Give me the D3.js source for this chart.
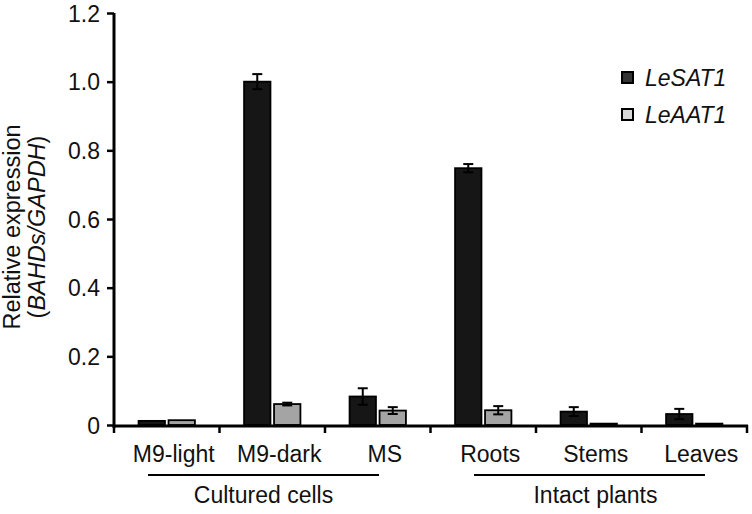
<!DOCTYPE html>
<html><head><meta charset="utf-8">
<script src="https://cdn.jsdelivr.net/npm/d3@7"></script>
<style>body{margin:0;background:#fff}svg{display:block;font-family:"Liberation Sans",Arial,sans-serif}</style>
</head><body>
<svg id="c" width="752" height="514"></svg>
<script>
const categories = ["M9-light","M9-dark","MS","Roots","Stems","Leaves"];
const seriesNames = ["LeSAT1","LeAAT1"];
const sat1 = [0.012, 1.0, 0.083, 0.748, 0.039, 0.032];
const sat1Err = [0.002, 0.022, 0.024, 0.012, 0.013, 0.015];
const aat1 = [0.014, 0.061, 0.042, 0.043, 0.004, 0.004];
const aat1Err = [0.002, 0.004, 0.010, 0.012, 0.001, 0.001];
const yTicks = [0, 0.2, 0.4, 0.6, 0.8, 1.0, 1.2];
const groups = [{name:"Cultured cells", from:0, to:2},{name:"Intact plants", from:3, to:5}];

const svg = d3.select("#c");
const x0 = 114, x1 = 747, yTop = 13, yBot = 425;
const x = d3.scaleBand().domain(categories).range([x0, x1]).paddingInner(0).paddingOuter(0);
const xs = d3.scaleBand().domain(seriesNames).range([0, x.bandwidth()]).paddingInner(0.12).paddingOuter(0.82);
const y = d3.scaleLinear().domain([0, 1.2]).range([yBot, yTop]);
const fills = {LeSAT1:"#161616", LeAAT1:"#a4a4a4"};
const vals = {LeSAT1:sat1, LeAAT1:aat1};
const errs = {LeSAT1:sat1Err, LeAAT1:aat1Err};

// bars
seriesNames.forEach(s => {
  const data = categories.map((c,i)=>({c, v:vals[s][i], e:errs[s][i]}));
  const g = svg.append("g");
  g.selectAll("rect").data(data).join("rect")
    .attr("x", d=>x(d.c)+xs(s)).attr("width", xs.bandwidth())
    .attr("y", d=>y(d.v)).attr("height", d=>yBot - y(d.v))
    .attr("fill", fills[s]).attr("stroke","#000").attr("stroke-width",1.8);
  const eb = g.selectAll("g.e").data(data.filter(d=>d.e>0.003)).join("g");
  const cx = d=>x(d.c)+xs(s)+xs.bandwidth()/2;
  eb.append("line").attr("x1",cx).attr("x2",cx)
    .attr("y1",d=>y(d.v-d.e)).attr("y2",d=>y(d.v+d.e)).attr("stroke","#000").attr("stroke-width",2);
  [1,-1].forEach(sg=>{
    eb.append("line").attr("x1",d=>cx(d)-5).attr("x2",d=>cx(d)+5)
      .attr("y1",d=>y(d.v+sg*d.e)).attr("y2",d=>y(d.v+sg*d.e)).attr("stroke","#000").attr("stroke-width",2);
  });
});

// y axis
const ya = svg.append("g").attr("transform",`translate(${x0},0)`)
  .call(d3.axisLeft(y).tickValues(yTicks).tickSize(7).tickSizeOuter(0).tickFormat(d=>d===0?"0":d3.format(".1f")(d)));
ya.select(".domain").attr("stroke-width",3).attr("d",`M0,${yTop}V${yBot+3}`);
ya.selectAll(".tick line").attr("stroke-width",2.5);
ya.selectAll(".tick text").attr("font-size",23).attr("fill","#111").attr("x",-14).attr("dy","0.36em");

// x axis with ticks at band boundaries
const xa = svg.append("g");
xa.append("line").attr("x1",x0).attr("x2",x1+1).attr("y1",yBot+1).attr("y2",yBot+1).attr("stroke","#000").attr("stroke-width",3);
xa.selectAll("line.t").data(categories.map(c=>x(c)).concat([x1])).join("line").attr("class","t")
  .attr("x1",d=>d).attr("x2",d=>d).attr("y1",yBot).attr("y2",yBot+8).attr("stroke","#000").attr("stroke-width",2.5);
xa.selectAll("text").data(categories).join("text")
  .attr("x",d=>x(d)+x.bandwidth()/2+7).attr("y",462).attr("text-anchor","middle")
  .attr("font-size",23).attr("fill","#111").text(d=>d);

// group lines
const lineOff = [[34, -51.5], [43.5, -42]];
const labelDx = [0, 6];
groups.forEach((gr,i)=>{
  const a = x(categories[gr.from]) + lineOff[i][0], b = x(categories[gr.to]) + x.bandwidth() + lineOff[i][1];
  svg.append("line").attr("x1",a).attr("x2",b).attr("y1",475).attr("y2",475).attr("stroke","#000").attr("stroke-width",2);
  svg.append("text").attr("x",(a+b)/2+labelDx[i]).attr("y",503).attr("text-anchor","middle").attr("font-size",23).attr("fill","#111").text(gr.name);
});

// y label
const yl = svg.append("text").attr("transform","translate(0,227) rotate(-90)").attr("text-anchor","middle").attr("font-size",23.5).attr("fill","#111");
yl.append("tspan").attr("x",0).attr("y",20).text("Relative expression");
yl.append("tspan").attr("x",0).attr("y",45).text("(")
  .append("tspan").attr("font-style","italic").text("BAHDs/GAPDH");
yl.append("tspan").text(")");

// legend
const leg = svg.append("g");
seriesNames.forEach((s,i)=>{
  const yy = 78 + i*37;
  leg.append("rect").attr("x",622).attr("y",yy-6).attr("width",11).attr("height",11)
    .attr("fill", i===0?"#333":"#d9d9d9").attr("stroke","#000").attr("stroke-width",2);
  leg.append("text").attr("x",645).attr("y",yy).attr("dy","0.36em").attr("font-size",23).attr("font-style","italic").attr("fill","#111").text(s);
});
</script>
</body></html>
